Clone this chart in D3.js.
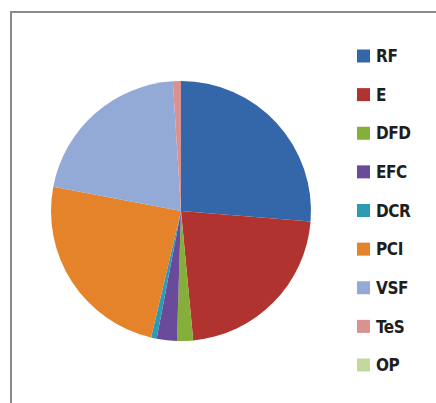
<!DOCTYPE html>
<html>
<head>
<meta charset="utf-8">
<script src="https://cdn.jsdelivr.net/npm/d3@7"></script>
<style>
  body { margin: 0; background: #fff; overflow: hidden; }
</style>
</head>
<body>
<div id="chart"></div>
<script>
const categories = ['RF', 'E', 'DFD', 'EFC', 'DCR', 'PCI', 'VSF', 'TeS', 'OP']
const values = [26.3, 22.2, 2.0, 2.5, 0.7, 24.3, 21.0, 1.0, 0]
const colors = ['#3467aa', '#b03330', '#86ae3a', '#6a4a9b', '#2c9bb4', '#e5832b', '#93a9d6', '#da9291', '#c2d89c']

const width = 436
const height = 403

const svg = d3
  .select('#chart')
  .append('svg')
  .attr('width', width)
  .attr('height', height)
  .style('display', 'block')

// chart frame, cut off at right and bottom
svg
  .append('rect')
  .attr('x', 11)
  .attr('y', 12)
  .attr('width', 460)
  .attr('height', 430)
  .attr('fill', 'none')
  .attr('stroke', '#8a8a8a')
  .attr('stroke-width', 2)

const color = d3.scaleOrdinal().domain(categories).range(colors)

const pie = d3
  .pie()
  .sort(null)
  .value(d => d.value)

const arc = d3.arc().innerRadius(0).outerRadius(130)

const datapoints = categories.map((name, i) => ({ name: name, value: values[i] }))

svg
  .append('g')
  .attr('transform', 'translate(181,211)')
  .selectAll('path')
  .data(pie(datapoints))
  .enter()
  .append('path')
  .attr('d', arc)
  .attr('fill', d => color(d.data.name))

const legendY = d3
  .scalePoint()
  .domain(categories)
  .range([56, 365])

const legend = svg
  .selectAll('.legend')
  .data(categories)
  .enter()
  .append('g')
  .attr('class', 'legend')
  .attr('transform', d => `translate(357,${legendY(d)})`)

legend
  .append('rect')
  .attr('x', 0)
  .attr('y', -6.5)
  .attr('width', 13)
  .attr('height', 13)
  .attr('fill', d => color(d))

legend
  .append('text')
  .attr('x', 19)
  .attr('y', 0)
  .attr('dy', '0.36em')
  .attr('font-family', '"Liberation Sans Narrow", "DejaVu Sans Condensed", sans-serif')
  .attr('font-weight', 'bold')
  .attr('font-size', 17)
  .attr('letter-spacing', -0.4)
  .attr('fill', '#1e1e1e')
  .text(d => d)
</script>
</body>
</html>
